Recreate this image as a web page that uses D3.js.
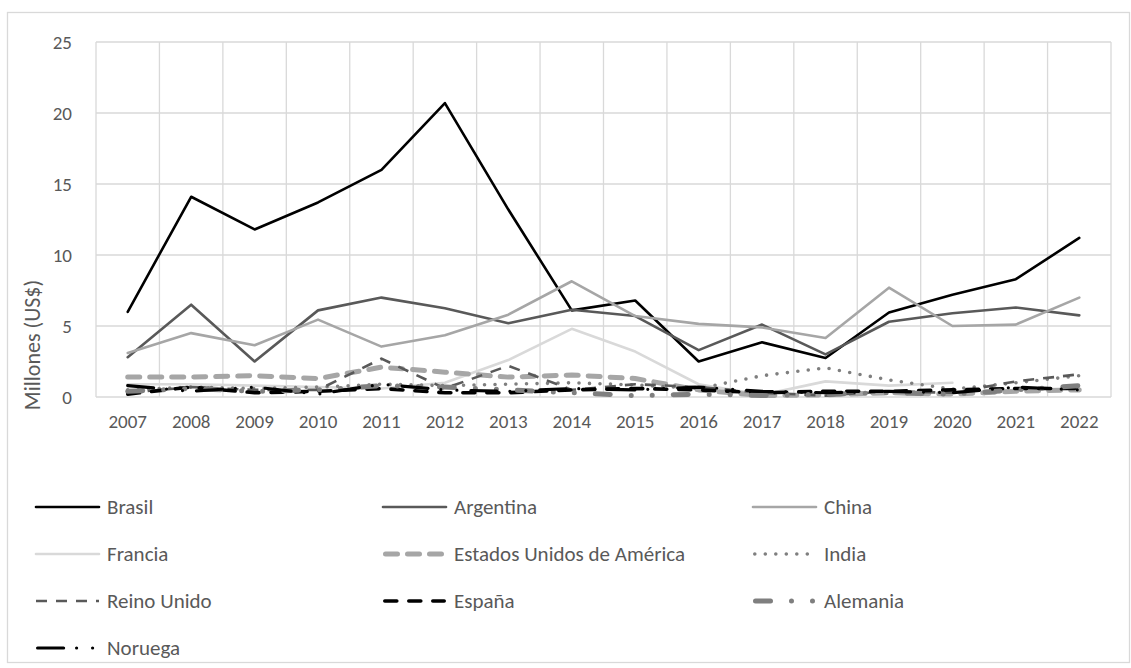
<!DOCTYPE html>
<html>
<head>
<meta charset="utf-8">
<script src="https://cdn.jsdelivr.net/npm/d3@7"></script>
<style>
  html, body { margin: 0; padding: 0; background: #fff; }
  svg text { font-family: Calibri, Carlito, "Open Sans", sans-serif; fill: #595959; }
</style>
</head>
<body>
<svg id="chart" width="1131" height="668"></svg>
<script>
// Years on the category axis
const years = ["2007","2008","2009","2010","2011","2012","2013","2014","2015","2016","2017","2018","2019","2020","2021","2022"];
const yTicks = [0, 5, 10, 15, 20, 25];

// Values per country, millions of US$
const brasil    = [6.0, 14.1, 11.8, 13.7, 16.0, 20.7, 13.2, 6.1, 6.8, 2.5, 3.85, 2.75, 5.95, 7.2, 8.3, 11.2];
const argentina = [2.8, 6.5, 2.5, 6.1, 7.0, 6.25, 5.2, 6.15, 5.7, 3.3, 5.1, 3.0, 5.3, 5.9, 6.3, 5.75];
const china     = [3.1, 4.5, 3.65, 5.45, 3.55, 4.35, 5.8, 8.15, 5.7, 5.15, 4.9, 4.15, 7.7, 5.0, 5.1, 7.0];
const francia   = [0.9, 0.9, 0.8, 0.7, 0.6, 1.0, 2.6, 4.8, 3.2, 0.9, 0.15, 1.1, 0.8, 1.0, null, null];
const eua       = [1.4, 1.4, 1.5, 1.3, 2.1, 1.75, 1.4, 1.55, 1.3, 0.5, 0.1, 0.15, 0.3, 0.2, 0.4, 0.5];
const india     = [0.5, 0.7, 0.6, 0.7, 0.9, 0.8, 0.9, 1.0, 0.85, 0.6, 1.5, 2.05, 1.2, 0.55, 1.0, 1.5];
const reinoUnido= [0.3, 0.7, 0.5, 0.5, 2.7, 0.6, 2.2, 0.5, 0.9, 0.7, 0.3, 0.1, 0.4, 0.3, 1.1, 1.6];
const espana    = [0.2, 0.7, 0.3, 0.4, 0.6, 0.3, 0.3, 0.5, 0.6, 0.5, 0.3, 0.4, 0.4, 0.5, 0.6, 0.6];
const alemania  = [0.4, 0.6, 0.4, 0.5, 0.8, 0.7, 0.5, 0.3, 0.1, 0.2, 0.1, 0.2, 0.3, 0.2, 0.5, 0.8];
const noruega   = [0.8, 0.4, 0.7, 0.2, 0.9, 0.5, 0.4, 0.6, 0.5, 0.7, 0.4, 0.3, 0.4, 0.3, 0.7, 0.5];

const series = [
  { name: "Brasil", values: brasil, color: "#000000", width: 2.6, dash: null, cap: "round" },
  { name: "Argentina", values: argentina, color: "#595959", width: 2.6, dash: null, cap: "round" },
  { name: "China", values: china, color: "#a6a6a6", width: 2.6, dash: null, cap: "round" },
  { name: "Francia", values: francia, color: "#d9d9d9", width: 2.6, dash: null, cap: "round" },
  { name: "Estados Unidos de América", values: eua, color: "#a6a6a6", width: 5, dash: "12 10", cap: "round" },
  { name: "India", values: india, color: "#7f7f7f", width: 3.6, dash: "0 10.5", cap: "round" },
  { name: "Reino Unido", values: reinoUnido, color: "#595959", width: 2.6, dash: "11 9", cap: "butt" },
  { name: "España", values: espana, color: "#000000", width: 3.6, dash: "12 12", cap: "round" },
  { name: "Alemania", values: alemania, color: "#7f7f7f", width: 5, dash: "15 21 0 21 0 21", cap: "round" },
  { name: "Noruega", values: noruega, color: "#000000", width: 3.2, dash: "26 13 0 16 0 14", cap: "round" }
];

const svg = d3.select("#chart");
const plot = { left: 96, right: 1111, top: 42, bottom: 397 };

// Outer chart border
svg.append("rect")
  .attr("x", 7.5).attr("y", 12.5)
  .attr("width", 1122).attr("height", 650)
  .attr("fill", "#fff").attr("stroke", "#d9d9d9").attr("stroke-width", 1.3);

const x = d3.scaleBand().domain(years).range([plot.left, plot.right]).paddingInner(0).paddingOuter(0);
const y = d3.scaleLinear().domain([0, 25]).range([plot.bottom, plot.top]);

// Horizontal gridlines
svg.append("g").selectAll("line").data(yTicks).join("line")
  .attr("x1", plot.left).attr("x2", plot.right)
  .attr("y1", d => y(d)).attr("y2", d => y(d))
  .attr("stroke", "#d9d9d9").attr("stroke-width", 1.3);

// Vertical gridlines at category boundaries
const bounds = years.map(d => x(d)).concat([plot.right]);
svg.append("g").selectAll("line").data(bounds).join("line")
  .attr("x1", d => d).attr("x2", d => d)
  .attr("y1", plot.top).attr("y2", plot.bottom)
  .attr("stroke", "#d9d9d9").attr("stroke-width", 1.3);

// Y axis labels
const yAxis = svg.append("g")
  .attr("transform", `translate(${plot.left - 24},0)`)
  .call(d3.axisLeft(y).tickValues(yTicks).tickSize(0).tickPadding(0));
yAxis.select(".domain").remove();
yAxis.selectAll("text").style("font-size", "19px").attr("dy", "0.35em");

// X axis labels
const xAxis = svg.append("g")
  .attr("transform", `translate(0,${plot.bottom})`)
  .call(d3.axisBottom(x).tickSize(0).tickPadding(18));
xAxis.select(".domain").remove();
xAxis.selectAll("text").style("font-size", "19px");

// Y axis title
svg.append("text")
  .attr("transform", "translate(40,345) rotate(-90)")
  .attr("text-anchor", "middle")
  .style("font-size", "22px")
  .text("Millones (US$)");

// Lines
const line = d3.line()
  .defined(d => d.v !== null)
  .x(d => x(d.year) + x.bandwidth() / 2)
  .y(d => y(d.v));

svg.append("g").selectAll("path").data(series).join("path")
  .attr("d", s => line(s.values.map((v, i) => ({ year: years[i], v }))))
  .attr("fill", "none")
  .attr("stroke", s => s.color)
  .attr("stroke-width", s => s.width)
  .attr("stroke-dasharray", s => s.dash)
  .attr("stroke-linecap", s => s.cap)
  .attr("stroke-linejoin", "round");

// Legend: three columns, four rows
const legCols = [36, 383, 753];
const legRows = [507, 554, 601, 648];
const leg = svg.append("g").selectAll("g").data(series).join("g")
  .attr("transform", (s, i) => `translate(${legCols[i % 3]},${legRows[Math.floor(i / 3)]})`);
leg.append("line")
  .attr("x1", s => s.cap === "round" && s.dash ? s.width / 2 : 0)
  .attr("x2", s => s.cap === "round" && s.dash ? 63 - s.width / 2 : 63)
  .attr("stroke", s => s.color)
  .attr("stroke-width", s => s.width)
  .attr("stroke-dasharray", s => s.dash)
  .attr("stroke-linecap", s => s.cap);
leg.append("text")
  .attr("x", 71).attr("dy", "0.35em")
  .style("font-size", "21px")
  .text(s => s.name);
</script>
</body>
</html>
